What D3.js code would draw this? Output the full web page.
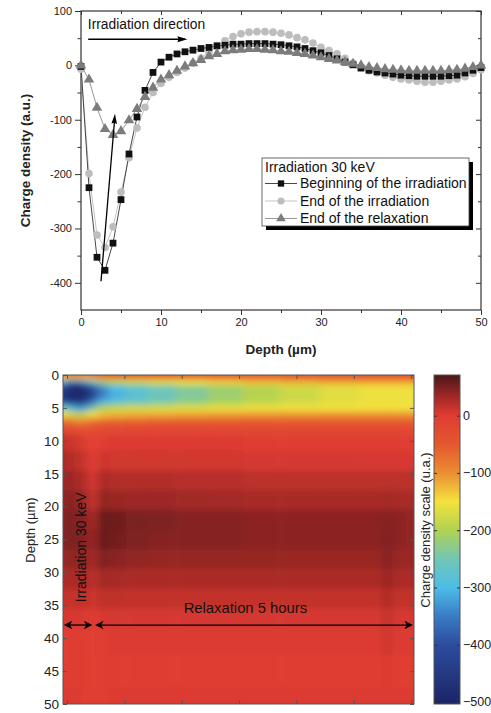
<!DOCTYPE html>
<html>
<head>
<meta charset="utf-8">
<script src="https://cdn.jsdelivr.net/npm/d3@7"></script>
<style>
  body { margin: 0; background: #fff; }
  svg { display: block; font-family: "Liberation Sans", Arial, sans-serif; }
</style>
</head>
<body>
<svg id="chart" width="491" height="713"></svg>
<script>
// ---------- top chart data (charge density profiles, a.u.)
const depthPts = [0,1,2,3,4,5,6,7,8,9,10,11,12,13,14,15,16,17,18,19,20,21,22,23,24,25,
  26,27,28,29,30,31,32,33,34,35,36,37,38,39,40,41,42,43,44,45,46,47,48,49,50];
const beginIrr = [-2,-225,-353,-377,-327,-247,-163,-95,-46,-13,6,15,21,25,28,31,33,36,37,39,39,40,40,40,39,38,
  36,34,31,27,23,18,12,6,1,-5,-9,-12,-14,-16,-18,-19,-20,-20,-20,-20,-19,-18,-14,-9,-4];
const endIrr = [-7,-199,-312,-335,-297,-233,-170,-115,-77,-50,-33,-22,-13,-5,4,13,24,35,45,53,58,61,62,62,61,59,
  56,51,47,41,33,27,21,13,4,-4,-10,-14,-18,-22,-25,-27,-29,-31,-31,-29,-27,-25,-21,-15,-8];
const endRelax = [0,-26,-78,-117,-128,-121,-101,-80,-58,-41,-26,-18,-10,-2,4,10,17,21,26,28,29,30,30,29,28,26,
  25,23,21,18,15,12,9,6,3,0,-3,-5,-7,-8,-9,-10,-10,-10,-10,-10,-9,-8,-6,-3,0];
const chargeTicks = [-400,-300,-200,-100,0,100];
const chargeMinor = [-350,-250,-150,-50,50];
const depthTicks = [0,10,20,30,40,50];
const depthMinor = [5,15,25,35,45];
const legendTitle = "Irradiation 30 keV";
const seriesNames = ["Beginning of the irradiation", "End of the irradiation", "End of the relaxation"];

// ---------- bottom chart data (time x depth map)
const timeCols = [-0.07,0.05,0.19,0.33,0.45,0.61,0.84,1.19,1.62,2.15,2.76,3.37,4.06,4.76,5.42,5.58,5.74,6.05];
const depthRows = [0,0.5,1,2,3,4,5,6,7,8,10,13,16,19,22,25,28,31,34,37,40,45,50];
const density = [
  [-40,-45,-45,-40,-35,-30,-25,-22,-20,-18,-15,-12,-10,-8,-8,-8,-8,-8],
  [-150,-170,-170,-150,-125,-105,-100,-95,-90,-85,-80,-75,-70,-65,-62,-62,-62,-62],
  [-320,-380,-380,-340,-270,-215,-195,-180,-165,-152,-140,-128,-120,-115,-112,-112,-112,-112],
  [-430,-480,-490,-470,-420,-340,-295,-272,-252,-232,-212,-194,-176,-162,-152,-152,-152,-152],
  [-450,-495,-500,-490,-430,-355,-310,-285,-262,-240,-218,-198,-180,-165,-156,-156,-156,-156],
  [-420,-460,-470,-440,-370,-310,-280,-262,-245,-226,-206,-188,-175,-162,-154,-154,-154,-154],
  [-250,-300,-340,-320,-245,-200,-185,-178,-172,-166,-160,-156,-153,-151,-149,-149,-149,-149],
  [-155,-175,-190,-180,-150,-130,-124,-120,-117,-114,-111,-108,-106,-105,-105,-105,-105,-105],
  [-70,-80,-95,-90,-75,-66,-63,-60,-58,-56,-55,-55,-55,-55,-55,-55,-55,-55],
  [-22,-28,-35,-35,-30,-25,-22,-20,-20,-20,-20,-20,-20,-20,-20,-20,-20,-20],
  [15,12,8,0,-12,0,2,2,2,2,2,0,0,0,0,0,0,0],
  [28,25,20,10,-8,10,8,8,8,8,8,6,6,6,5,5,5,5],
  [35,35,30,22,5,28,25,25,25,22,22,20,20,20,20,20,20,20],
  [42,42,40,32,12,40,36,35,35,33,32,30,30,30,30,32,30,30],
  [45,48,46,42,30,58,55,50,48,45,45,42,42,42,42,45,42,40],
  [45,50,48,44,36,58,52,48,45,45,45,42,42,42,42,48,42,40],
  [38,40,40,38,30,48,42,40,38,38,38,38,36,36,36,45,36,36],
  [28,28,28,26,20,32,30,28,28,28,28,28,28,28,28,36,28,28],
  [15,15,15,15,10,18,18,16,16,16,16,16,16,16,16,26,16,16],
  [5,5,5,4,0,6,6,6,6,6,6,6,6,6,6,16,6,6],
  [0,0,0,-2,-5,0,2,2,2,2,2,2,2,2,2,10,2,2],
  [0,0,0,-4,-6,-2,0,0,0,0,0,0,0,0,0,2,0,0],
  [2,2,2,0,-3,0,2,2,2,2,2,2,2,2,2,2,2,2]
];
const mapDepthTicks = [0,5,10,15,20,25,30,35,40,45,50];
const timeTicks = [0,1,2,3,4,5,6];
const cbTicks = [0,-100,-200,-300,-400,-500];

// colour map of the scale bar
const cmapValues = [71, 50, 30, 0, -50, -100, -150, -200, -250, -300, -350, -400, -503.5];
const cmapColors = ["#4a1818","#7a2020","#a82a26","#e03c32","#e4582e","#eb8e32","#f4e23c",
  "#b0d252","#72c6b4","#4cbde8","#3a7cc4","#2c4d9e","#1c2466"];

const svg = d3.select("#chart");

function arrowHead(g, x1, y1, x2, y2, len, half, notch) {
  const a = Math.atan2(y2 - y1, x2 - x1) * 180 / Math.PI;
  g.append("path")
    .attr("d", `M0,0L${-len},${-half}L${-len + notch},0L${-len},${half}Z`)
    .attr("transform", `translate(${x2},${y2}) rotate(${a})`)
    .attr("fill", "#000");
}

function styleAxis(g, fs) {
  g.select(".domain").remove();
  g.selectAll(".tick line").attr("stroke", "#333");
  g.selectAll(".tick text").attr("fill", "#222").attr("font-size", fs)
    .attr("font-family", "Liberation Sans, Arial, sans-serif");
}

// ================= top chart =================
const x = d3.scaleLinear().domain([0, 50]).range([81, 481]);
const y = d3.scaleLinear().domain([-450, 100]).range([310, 11]);
const upper = svg.append("g");

upper.append("rect")
  .attr("x", x(0)).attr("y", y(100))
  .attr("width", x(50) - x(0)).attr("height", y(-450) - y(100))
  .attr("fill", "none").attr("stroke", "#333").attr("stroke-width", 1.2);

upper.append("g").attr("transform", `translate(${x(0)},0)`)
  .call(d3.axisLeft(y).tickValues(chargeTicks).tickSize(6).tickPadding(3).tickFormat(d => String(d)))
  .call(g => styleAxis(g, 11));
upper.append("g").attr("transform", `translate(${x(0)},0)`)
  .call(d3.axisLeft(y).tickValues(chargeMinor).tickSize(3.5).tickFormat(""))
  .call(g => styleAxis(g, 11));
upper.append("g").attr("transform", `translate(${x(50)},0)`)
  .call(d3.axisLeft(y).tickValues(chargeTicks).tickSize(5).tickFormat(""))
  .call(g => styleAxis(g, 11));
upper.append("g").attr("transform", `translate(${x(50)},0)`)
  .call(d3.axisLeft(y).tickValues(chargeMinor).tickSize(3).tickFormat(""))
  .call(g => styleAxis(g, 11));
upper.append("g").attr("transform", `translate(0,${y(-450)})`)
  .call(d3.axisBottom(x).tickValues(depthTicks).tickSize(5).tickPadding(3))
  .call(g => styleAxis(g, 11));
upper.append("g").attr("transform", `translate(0,${y(-450)})`)
  .call(d3.axisBottom(x).tickValues(depthMinor).tickSize(3).tickFormat(""))
  .call(g => styleAxis(g, 11));
upper.append("g").attr("transform", `translate(0,${y(100)})`)
  .call(d3.axisBottom(x).tickValues(depthTicks).tickSize(4).tickFormat(""))
  .call(g => styleAxis(g, 11));
upper.append("g").attr("transform", `translate(0,${y(100)})`)
  .call(d3.axisBottom(x).tickValues(depthMinor).tickSize(3).tickFormat(""))
  .call(g => styleAxis(g, 11));

upper.append("text")
  .attr("transform", `translate(30,${(y(100) + y(-450)) / 2}) rotate(-90)`)
  .attr("text-anchor", "middle").attr("font-weight", "bold").attr("font-size", 13.5)
  .attr("fill", "#222").text("Charge density (a.u.)");
upper.append("text")
  .attr("x", (x(0) + x(50)) / 2).attr("y", 354)
  .attr("text-anchor", "middle").attr("font-weight", "bold").attr("font-size", 13.5)
  .attr("fill", "#222").text("Depth (\u00b5m)");

const series = [
  { name: seriesNames[0], values: beginIrr, fill: "#111", line: "#333", sym: d3.symbolSquare, size: 46 },
  { name: seriesNames[1], values: endIrr, fill: "#bdbdbd", line: "#bdbdbd", sym: d3.symbolCircle, size: 46 },
  { name: seriesNames[2], values: endRelax, fill: "#7c7c7c", line: "#8a8a8a", sym: d3.symbolTriangle, size: 48 }
];
const drawOrder = [1, 0, 2];
const line = d3.line().x((d, i) => x(depthPts[i])).y(d => y(d));

drawOrder.forEach(k => {
  const s = series[k];
  upper.append("path").datum(s.values)
    .attr("d", line).attr("fill", "none").attr("stroke", s.line).attr("stroke-width", 0.9);
});
drawOrder.forEach(k => {
  const s = series[k];
  upper.append("g").selectAll("path").data(s.values).join("path")
    .attr("d", d3.symbol().type(s.sym).size(s.size))
    .attr("transform", (d, i) => `translate(${x(depthPts[i])},${y(d)})`)
    .attr("fill", s.fill);
});

// annotations
const ann = upper.append("g");
ann.append("text").attr("x", x(0.85)).attr("y", y(66)).attr("font-size", 13.8)
  .attr("fill", "#111").text("Irradiation direction");
ann.append("line").attr("x1", x(0.9)).attr("y1", y(48)).attr("x2", x(13.0)).attr("y2", y(48))
  .attr("stroke", "#000").attr("stroke-width", 1.4);
arrowHead(ann, x(0.9), y(48), x(13.3), y(48), 10, 3, 1);
ann.append("line").attr("x1", x(2.5)).attr("y1", y(-397)).attr("x2", x(4.2)).attr("y2", y(-100))
  .attr("stroke", "#000").attr("stroke-width", 1.3);
arrowHead(ann, x(2.5), y(-397), x(4.25), y(-89), 10, 2.8, 1);

// legend
const lg = upper.append("g");
lg.append("rect").attr("x", 266).attr("y", 162).attr("width", 207).attr("height", 68).attr("fill", "#000");
lg.append("rect").attr("x", 262).attr("y", 158).attr("width", 207).attr("height", 68)
  .attr("fill", "#fff").attr("stroke", "#444").attr("stroke-width", 0.8);
lg.append("text").attr("x", 265).attr("y", 172).attr("font-size", 14).attr("fill", "#111").text(legendTitle);
series.forEach((s, i) => {
  const yy = 183.5 + i * 17.5;
  lg.append("line").attr("x1", 265).attr("x2", 297).attr("y1", yy).attr("y2", yy)
    .attr("stroke", s.line).attr("stroke-width", 0.9);
  lg.append("path").attr("d", d3.symbol().type(s.sym).size(40)())
    .attr("transform", `translate(281,${yy})`).attr("fill", s.fill);
  lg.append("text").attr("x", 300).attr("y", yy + 4.8).attr("font-size", 14)
    .attr("fill", "#111").text(s.name);
});

// ================= bottom chart =================
const tx = d3.scaleLinear().domain([-0.07, 6.05]).range([63, 414]);
const dy = d3.scaleLinear().domain([0, 50]).range([375, 704]);
const color = d3.scaleLinear().domain(cmapValues).range(cmapColors).clamp(true);

const defs = svg.append("defs");
defs.append("clipPath").attr("id", "mapclip").append("rect")
  .attr("x", tx(-0.07)).attr("y", dy(0)).attr("width", tx(6.05) - tx(-0.07)).attr("height", dy(50) - dy(0));
defs.append("filter").attr("id", "smooth")
  .attr("x", "-5%").attr("y", "-5%").attr("width", "110%").attr("height", "110%")
  .append("feGaussianBlur").attr("stdDeviation", "4 3");

function bounds(arr, pad) {
  return arr.map((v, i) => [
    i === 0 ? v - pad : (arr[i - 1] + v) / 2,
    i === arr.length - 1 ? v + pad : (v + arr[i + 1]) / 2
  ]);
}
const colB = bounds(timeCols, 0.4);
const rowB = bounds(depthRows, 3);

const cells = [];
density.forEach((row, r) => row.forEach((v, c) => cells.push({ r, c, v })));

const map = svg.append("g").attr("clip-path", "url(#mapclip)")
  .append("g").attr("filter", "url(#smooth)");
map.selectAll("rect").data(cells).join("rect")
  .attr("x", d => tx(colB[d.c][0]))
  .attr("y", d => dy(rowB[d.r][0]))
  .attr("width", d => tx(colB[d.c][1]) - tx(colB[d.c][0]) + 0.5)
  .attr("height", d => dy(rowB[d.r][1]) - dy(rowB[d.r][0]) + 0.5)
  .attr("fill", d => color(d.v));

const mapAx = svg.append("g");
mapAx.append("rect")
  .attr("x", tx(-0.07)).attr("y", dy(0)).attr("width", tx(6.05) - tx(-0.07)).attr("height", dy(50) - dy(0))
  .attr("fill", "none").attr("stroke", "#555").attr("stroke-width", 1);
mapAx.append("g").attr("transform", `translate(${tx(-0.07)},0)`)
  .call(d3.axisLeft(dy).tickValues(mapDepthTicks).tickSizeInner(-4).tickSizeOuter(0).tickPadding(4))
  .call(g => styleAxis(g, 13.5));
mapAx.append("g").attr("transform", `translate(${tx(6.05)},0)`)
  .call(d3.axisLeft(dy).tickValues(mapDepthTicks).tickSize(4).tickFormat(""))
  .call(g => styleAxis(g, 13.5));
mapAx.append("g").attr("transform", `translate(0,${dy(0)})`)
  .call(d3.axisBottom(tx).tickValues(timeTicks).tickSize(4).tickFormat(""))
  .call(g => styleAxis(g, 13.5));
mapAx.append("g").attr("transform", `translate(0,${dy(50)})`)
  .call(d3.axisTop(tx).tickValues(timeTicks).tickSize(4).tickFormat(""))
  .call(g => styleAxis(g, 13.5));
mapAx.selectAll(".tick line").attr("stroke", "#555");

svg.append("text")
  .attr("transform", `translate(35,530) rotate(-90)`)
  .attr("text-anchor", "middle").attr("font-size", 13).attr("fill", "#222").text("Depth (\u00b5m)");

// annotations in the map
const mann = svg.append("g");
mann.append("text")
  .attr("transform", `translate(${tx(0.33)},${dy(26.2)}) rotate(-90)`)
  .attr("text-anchor", "middle").attr("font-size", 14).attr("fill", "#111").text("Irradiation 30 keV");
mann.append("text")
  .attr("x", tx(3.11)).attr("y", dy(36.1)).attr("text-anchor", "middle")
  .attr("font-size", 14.8).attr("fill", "#111").text("Relaxation 5 hours");
function dblArrow(t0, t1, d) {
  mann.append("line").attr("x1", tx(t0) + 4).attr("x2", tx(t1) - 4).attr("y1", dy(d)).attr("y2", dy(d))
    .attr("stroke", "#000").attr("stroke-width", 1.3);
  arrowHead(mann, tx(t1), dy(d), tx(t0), dy(d), 8.5, 4.3, 2.5);
  arrowHead(mann, tx(t0), dy(d), tx(t1), dy(d), 8.5, 4.3, 2.5);
}
dblArrow(-0.055, 0.44, 38);
dblArrow(0.49, 6.03, 38);

// colour scale bar
const cbY = d3.scaleLinear().domain([-503.5, 71]).range([704, 375]);
const grad = defs.append("linearGradient").attr("id", "cbgrad")
  .attr("x1", 0).attr("y1", 0).attr("x2", 0).attr("y2", 1);
cmapValues.forEach((v, i) => {
  grad.append("stop").attr("offset", (cbY(v) - cbY(71)) / (cbY(-503.5) - cbY(71)))
    .attr("stop-color", cmapColors[i]);
});
svg.append("rect").attr("x", 434).attr("y", cbY(71)).attr("width", 26).attr("height", cbY(-503.5) - cbY(71))
  .attr("fill", "url(#cbgrad)").attr("stroke", "#555").attr("stroke-width", 1);
svg.append("g").attr("transform", "translate(460,0)")
  .call(d3.axisRight(cbY).tickValues(cbTicks).tickSizeInner(-3).tickSizeOuter(0).tickPadding(3))
  .call(g => styleAxis(g, 12.5));
svg.append("g").attr("transform", "translate(434,0)")
  .call(d3.axisRight(cbY).tickValues(cbTicks).tickSize(3).tickFormat(""))
  .call(g => styleAxis(g, 12.5));
svg.append("text")
  .attr("transform", `translate(430,530) rotate(-90)`)
  .attr("text-anchor", "middle").attr("font-size", 13).attr("fill", "#222")
  .text("Charge density scale (u.a.)");
</script>
</body>
</html>
